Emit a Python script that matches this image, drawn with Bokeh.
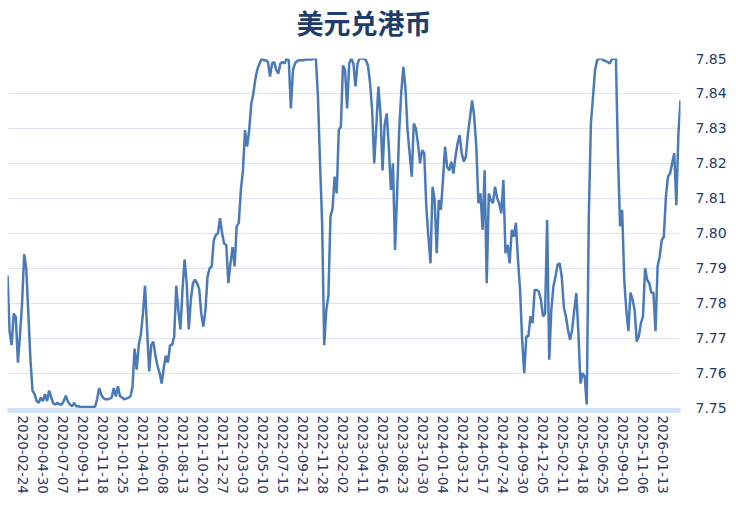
import pandas as pd
from bokeh.plotting import figure
from bokeh.models import FixedTicker, Range1d, ColumnDataSource, Title
from bokeh.embed import file_html
from bokeh.resources import INLINE

# ---- data -----------------------------------------------------------------
start_date = "2020-01-01"      # first business day of the series
n_days = 1616                  # business days in the series
step = 5                       # one reading every 5 business days

tick_labels = [
    "2020-02-24", "2020-04-30", "2020-07-07", "2020-09-11", "2020-11-18",
    "2021-01-25", "2021-04-01", "2021-06-08", "2021-08-13", "2021-10-20",
    "2021-12-27", "2022-03-03", "2022-05-10", "2022-07-15", "2022-09-21",
    "2022-11-28", "2023-02-02", "2023-04-11", "2023-06-16", "2023-08-23",
    "2023-10-30", "2024-01-04", "2024-03-12", "2024-05-17", "2024-07-24",
    "2024-09-30", "2024-12-05", "2025-02-11", "2025-04-18", "2025-06-25",
    "2025-09-01", "2025-11-06", "2026-01-13",
]

usd_hkd = [
    7.788, 7.772, 7.768, 7.777, 7.776, 7.763, 7.771, 7.780, 7.794, 7.790,
    7.777, 7.764, 7.755, 7.754, 7.752, 7.7515, 7.753, 7.752, 7.754, 7.752,
    7.755, 7.753, 7.7513, 7.751, 7.7515, 7.751, 7.751, 7.752, 7.7535, 7.7518,
    7.751, 7.7505, 7.7515, 7.7505, 7.7505, 7.7503, 7.7503, 7.7503, 7.7503, 7.7503,
    7.7503, 7.7503, 7.7503, 7.7525, 7.7557, 7.7538, 7.7528, 7.7525, 7.7525, 7.7527,
    7.753, 7.7557, 7.7533, 7.7562, 7.7533, 7.753, 7.7525, 7.7527, 7.753, 7.7533,
    7.756, 7.767, 7.761, 7.768, 7.771, 7.777, 7.785, 7.7725, 7.7605, 7.768,
    7.769, 7.765, 7.762, 7.760, 7.757, 7.7615, 7.765, 7.763, 7.768, 7.768,
    7.7705, 7.785, 7.778, 7.7725, 7.784, 7.7925, 7.7857, 7.7725, 7.781, 7.7857,
    7.7867, 7.7857, 7.784, 7.777, 7.7733, 7.778, 7.7876, 7.790, 7.7905, 7.798,
    7.7995, 7.800, 7.8043, 7.800, 7.797, 7.7967, 7.7857, 7.7914, 7.796, 7.7905,
    7.802, 7.803, 7.8124, 7.818, 7.8295, 7.8248, 7.8295, 7.837, 7.840, 7.8443,
    7.8471, 7.8486, 7.850, 7.8495, 7.8495, 7.849, 7.8448, 7.8486, 7.849, 7.8467,
    7.8457, 7.8486, 7.849, 7.8486, 7.850, 7.8495, 7.8357, 7.8467, 7.8486, 7.8493,
    7.8495, 7.8495, 7.8495, 7.8497, 7.8497, 7.8497, 7.8497, 7.850, 7.850, 7.839,
    7.820, 7.803, 7.768, 7.778, 7.782, 7.8048, 7.807, 7.8162, 7.8114, 7.8295,
    7.8305, 7.848, 7.8467, 7.8357, 7.8486, 7.850, 7.8486, 7.842, 7.8486, 7.850,
    7.850, 7.850, 7.8495, 7.848, 7.843, 7.8352, 7.820, 7.8305, 7.842, 7.8343,
    7.818, 7.831, 7.8343, 7.8248, 7.8124, 7.820, 7.7952, 7.8114, 7.8295, 7.8405,
    7.8476, 7.8414, 7.8295, 7.8229, 7.8162, 7.8314, 7.830, 7.8257, 7.820, 7.8238,
    7.8229, 7.8076, 7.799, 7.7914, 7.8133, 7.8095, 7.7943, 7.8095, 7.8067, 7.8152,
    7.8248, 7.819, 7.818, 7.8205, 7.8171, 7.8219, 7.8257, 7.8281, 7.8229, 7.8205,
    7.822, 7.8286, 7.8333, 7.838, 7.8333, 7.8248, 7.8086, 7.8114, 7.801, 7.818,
    7.7857, 7.8114, 7.8095, 7.8086, 7.8133, 7.810, 7.8086, 7.8057, 7.8152, 7.7943,
    7.7967, 7.7914, 7.801, 7.799, 7.803, 7.7924, 7.7838, 7.7695, 7.760, 7.7705,
    7.7705, 7.7762, 7.7743, 7.7838, 7.7838, 7.7833, 7.781, 7.7762, 7.777, 7.8038,
    7.7638, 7.778, 7.7848, 7.7876, 7.791, 7.7914, 7.7876, 7.779, 7.7762, 7.7724,
    7.7695, 7.7724, 7.778, 7.7829, 7.7714, 7.757, 7.760, 7.759, 7.751, 7.805,
    7.8314, 7.839, 7.8467, 7.8495, 7.850, 7.850, 7.8495, 7.8493, 7.849, 7.8486,
    7.8497, 7.850, 7.850, 7.822, 7.802, 7.8067, 7.7867, 7.778, 7.772, 7.783,
    7.781, 7.778, 7.769, 7.7705, 7.7743, 7.7762, 7.790, 7.7867, 7.7857, 7.783,
    7.783, 7.772, 7.7905, 7.7933, 7.798, 7.799, 7.8105, 7.8162, 7.8171, 7.820,
    7.8229, 7.808, 7.8286, 7.838,
]

title_text = "美元兑港币"
y_ticks = [7.75, 7.76, 7.77, 7.78, 7.79, 7.80, 7.81, 7.82, 7.83, 7.84, 7.85]

# ---- build -----------------------------------------------------------------
days = pd.bdate_range(start_date, periods=n_days)
sample_dates = days[::step][: len(usd_hkd)]
xs = [days.get_loc(d) for d in sample_dates]
tick_pos = [days.get_loc(pd.Timestamp(t)) for t in tick_labels]

src = ColumnDataSource(dict(x=xs, y=usd_hkd,
                            date=[d.strftime("%Y-%m-%d") for d in sample_dates]))

TEXT = "#1f3d6b"
FONT = "DejaVu Sans"

p = figure(frame_width=673, frame_height=352, output_backend="svg",
           toolbar_location=None, title=None,
           x_range=Range1d(0, n_days - 1), y_range=Range1d(7.74929, 7.85),
           y_axis_location="right",
           min_border_left=7, min_border_right=48, min_border_top=49,
           min_border_bottom=88)
p.outline_line_color = None
p.background_fill_color = "white"
p.border_fill_color = "white"

# spacer between the frame and the title (closest to the frame)
p.add_layout(Title(text=" ", text_font_size="10px", standoff=4,
                   text_color="white"), "above")
p.add_layout(Title(text=title_text, text_font="Noto Sans CJK SC",
                   text_font_style="bold", text_font_size="27px",
                   text_color=TEXT, align="left", offset=289, standoff=0),
             "above")

p.line("x", "y", source=src, line_color="#4a7bb8", line_width=2.5)

p.xgrid.visible = False
p.ygrid.grid_line_color = "#dde4ee"
p.ygrid.grid_line_width = 1
p.ygrid.ticker = FixedTicker(ticks=y_ticks)

ya = p.yaxis[0]
ya.ticker = FixedTicker(ticks=y_ticks)
ya.axis_line_color = None
ya.major_tick_line_color = None
ya.minor_tick_line_color = None
ya.major_tick_out = 0
ya.major_tick_in = 0
ya.major_label_standoff = 15
ya.major_label_text_font = FONT
ya.major_label_text_font_size = "14px"
ya.major_label_text_color = TEXT
ya.major_label_overrides = {t: f"{t:.2f}" for t in y_ticks}

xa = p.xaxis[0]
xa.ticker = FixedTicker(ticks=tick_pos)
xa.major_label_overrides = {pos: lab for pos, lab in zip(tick_pos, tick_labels)}
xa.major_label_orientation = "vertical"
xa.axis_line_color = "#d3e3f5"
xa.axis_line_width = 5
xa.major_tick_line_color = None
xa.minor_tick_line_color = None
xa.major_tick_out = 0
xa.major_tick_in = 0
xa.major_label_standoff = 5
xa.major_label_text_font = FONT
xa.major_label_text_font_size = "13.5px"
xa.major_label_text_color = TEXT

open("out.html", "w").write(file_html(p, INLINE))
